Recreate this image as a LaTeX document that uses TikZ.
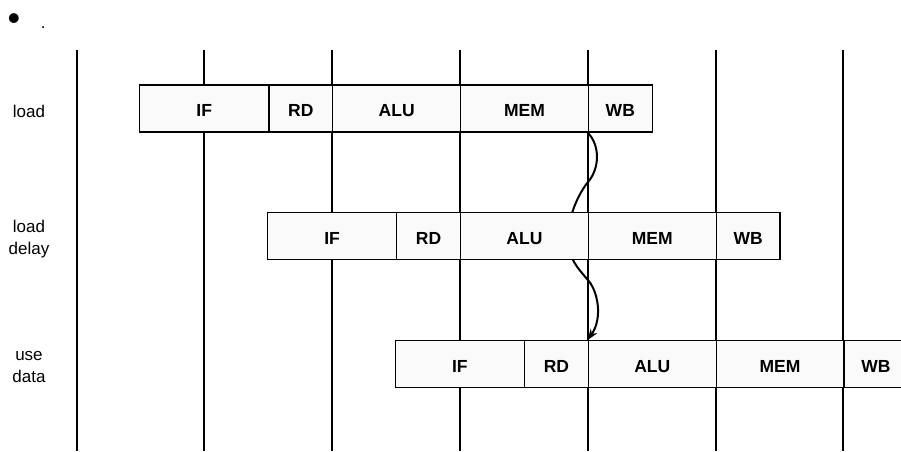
\documentclass[tikz,border=0pt]{standalone}
\usepackage{fontspec}
\setmainfont{Liberation Sans}
\usetikzlibrary{arrows.meta}
\pgfdeclarelayer{background}
\pgfsetlayers{background,main}
\begin{document}
\begin{tikzpicture}[x=1pt,y=-1pt,
  cell/.style={draw=black, line width=1.3pt, fill=black!2, anchor=west,
    minimum height=47pt, inner sep=0pt, text height=16.5pt, text depth=0pt,
    font=\fontsize{17.5}{20}\selectfont\bfseries},
  gridline/.style={line width=2pt},
  rowlabel/.style={align=center, font=\fontsize{17}{22}\selectfont},
  dep/.style={line width=2pt, -{Stealth[length=11pt,width=8pt]}}]
\useasboundingbox (0,0) rectangle (901,451);
\clip (0,0) rectangle (901,451);

\node[anchor=base, font=\fontsize{36}{36}\selectfont, inner sep=0pt] (bul) at (14,30.2) {•};
\node[anchor=base, font=\fontsize{17}{20}\selectfont, inner sep=0pt] (dot) at (43.3,28) {.};

\node[rowlabel] (l0) at (29,111) {load};
\node[rowlabel] (l1) at (29,238.8) {load\\delay};
\node[rowlabel] (l2) at (29,366.6) {use\\data};

\foreach \r/\y in {0/108.5,1/236.3,2/364.1}{
  \pgfmathsetmacro\o{127.8*\r}
  \node[cell, minimum width=129.2pt] (if\r) at ({139+\o},\y) {IF};
  \node[cell, minimum width=63.9pt] (rd\r) at ({268.2+\o},\y) {RD};
  \node[cell, minimum width=127.8pt] (alu\r) at ({332.1+\o},\y) {ALU};
  \node[cell, minimum width=127.8pt] (mem\r) at ({459.9+\o},\y) {MEM};
  \node[cell, minimum width=63.9pt] (wb\r) at ({587.7+\o},\y) {WB};
}

\begin{pgfonlayer}{background}
\foreach \k in {0,...,6}{
  \draw[gridline] ({76.5+127.8*\k},50) -- ({76.5+127.8*\k},451);
}
\draw[dep] (wb0.south west) .. controls (600,145) and (600,168) .. (588,182)
  .. controls (580,191.5) and (568,215) .. (568,237)
  .. controls (568,259) and (578,268) .. (587,279)
  .. controls (598,290) and (603,318) .. (alu2.north west);
\end{pgfonlayer}
\end{tikzpicture}
\end{document}
